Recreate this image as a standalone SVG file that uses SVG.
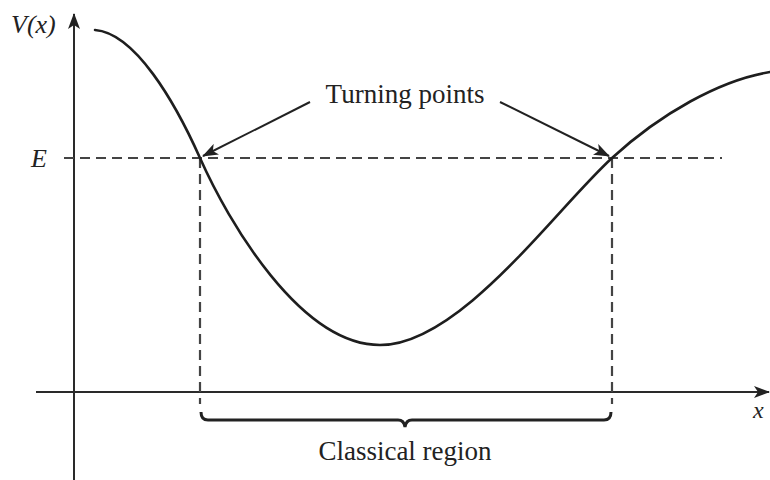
<svg xmlns="http://www.w3.org/2000/svg" width="770" height="480" viewBox="0 0 770 480">
<defs>
<style>
.axis{stroke:#2a2a2a;stroke-width:2;fill:none}
.curve{stroke:#1e1e1e;stroke-width:2.6;fill:none;stroke-linecap:round}
.dash{stroke:#444;stroke-width:2.2;fill:none;stroke-dasharray:10,6}
.ptr{stroke:#222;stroke-width:2;fill:none}
.lbl{font-family:"Liberation Serif","Times New Roman",serif;fill:#222}
.it{font-style:italic}
</style>
<marker id="ah" viewBox="0 0 16 12" refX="15" refY="6" markerWidth="16" markerHeight="12" markerUnits="userSpaceOnUse" orient="auto">
<path d="M0,0 L16,6 L0,12 L4,6 Z" fill="#222"/>
</marker>
</defs>
<rect width="770" height="480" fill="#fff"/>
<g id="axes">
<line class="axis" x1="74" y1="480" x2="74" y2="14" marker-end="url(#ah)"/>
<line class="axis" x1="36" y1="392" x2="769" y2="392" marker-end="url(#ah)"/>
</g>
<g id="energy-line">
<line class="dash" x1="64" y1="158" x2="722" y2="158"/>
<line class="dash" x1="200" y1="158" x2="200" y2="404"/>
<line class="dash" x1="612" y1="158" x2="612" y2="404"/>
</g>
<g id="potential">
<path class="curve" d="M95,30 C135,33 175,102 200,158 C228,221 300,345 380,345 C460,345 555,210 612,158 C660,114 720,80 770,72"/>
</g>
<g id="brace">
<path d="M201,412 Q201,420 208,420 L398,420 Q404,420 405,427 Q406,420 412,420 L604,420 Q611,420 611,412" fill="none" stroke="#222" stroke-width="3"/>
</g>
<g id="connectors">
<line class="ptr" x1="310" y1="102" x2="203" y2="156" marker-end="url(#ah)"/>
<line class="ptr" x1="500" y1="102" x2="609" y2="156" marker-end="url(#ah)"/>
</g>
<g id="labels">
<text class="lbl it" x="11" y="33" font-size="26">V(x)</text>
<text class="lbl it" x="31" y="167" font-size="26">E</text>
<text class="lbl it" x="753" y="418" font-size="24">x</text>
<text class="lbl" x="405" y="103" font-size="27" text-anchor="middle">Turning points</text>
<text class="lbl" x="405" y="460" font-size="27" text-anchor="middle">Classical region</text>
</g>
</svg>
